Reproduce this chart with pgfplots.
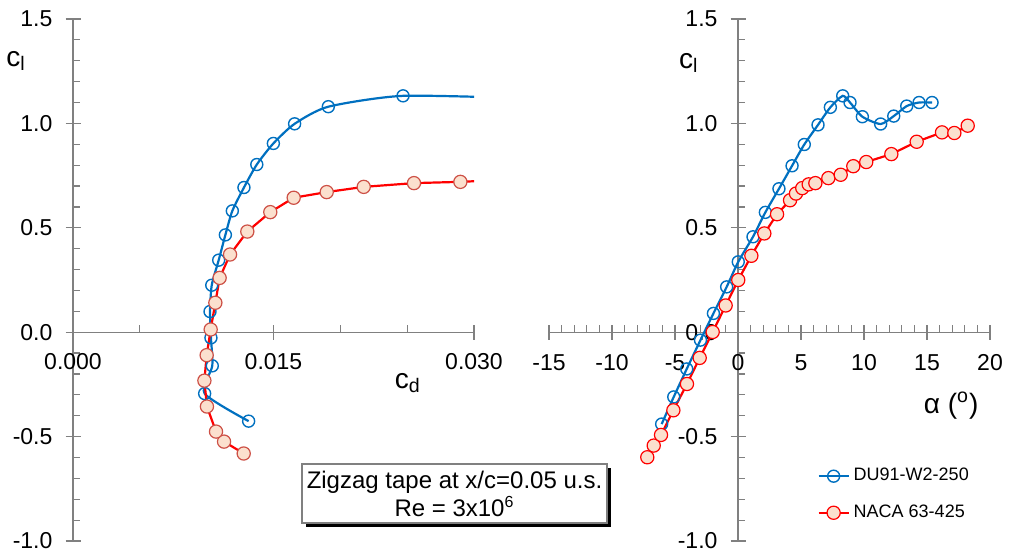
\documentclass[border=0pt]{standalone}
\usepackage{fontspec}
\setmainfont{Liberation Sans}
\usepackage{pgfplots}
\pgfplotsset{compat=1.18}
\usetikzlibrary{shadows}

\definecolor{dublue}{RGB}{0,112,192}
\definecolor{nacared}{RGB}{255,0,0}
\definecolor{nacafill}{RGB}{251,224,206}
\definecolor{nacaedge}{RGB}{205,80,70}
\definecolor{axgray}{RGB}{128,128,128}

\pgfplotsset{
  panel/.style={
    scale only axis, height=261pt,
    axis lines=middle,
    axis line style={-, draw=axgray, line width=0.65pt},
    hide obscured x ticks=false, hide obscured y ticks=false,
    scaled x ticks=false, scaled y ticks=false,
    ymin=-1, ymax=1.5, ytick={-1,-0.5,0,0.5,1,1.5},
    yticklabels={-1.0,-0.5,0.0,0.5,1.0,1.5},
    minor y tick num=4,
    tick align=center, major tick length=7.5pt, minor tick length=3.5pt,
    tick style={draw=axgray, line width=0.6pt},
    every minor x tick/.append style={yshift=1.75pt},
    every minor y tick/.append style={xshift=1.75pt},
    ticklabel style={font=\fontsize{11.5}{13}\selectfont, text=black},
    yticklabel style={xshift=-3pt},
    label style={font=\fontsize{14}{16}\selectfont},
  },
  du/.style={dublue, line width=1.1pt, mark=o,
    mark options={mark size=3pt, line width=0.7pt, fill=none, draw=dublue}},
  naca/.style={nacared, line width=1.1pt, mark=*,
    mark options={mark size=3.3pt, fill=nacafill, draw=#1, line width=0.6pt}},
  naca/.default=nacaedge,
}

\begin{document}
\begin{tikzpicture}
\path[use as bounding box] (0,0) rectangle (505pt,278pt);

% left: cl vs cd
\begin{axis}[panel, at={(36.5pt,7.5pt)}, anchor=south west, width=200.5pt,
  xmin=0, xmax=0.03, xtick={0,0.015,0.03}, xticklabels={0.000,0.015,0.030},
  minor x tick num=2,
  xticklabel style={yshift=-3.5pt},
  xlabel={c\textsubscript{d}}, ylabel={c\textsubscript{l}},
  xlabel style={at={(axis description cs:0.835,0.303)}, anchor=center},
  ylabel style={at={(axis description cs:-0.142,0.92)}, anchor=center, rotate=0},
]
\addplot[du, smooth, tension=0.4] coordinates {
  (0.01314,-0.426) (0.00985,-0.294) (0.01042,-0.161) (0.01032,-0.027)
  (0.01025,0.099) (0.01038,0.225) (0.01090,0.345) (0.01140,0.466)
  (0.01192,0.581) (0.01279,0.693) (0.01375,0.803) (0.01499,0.904)
  (0.01658,0.998) (0.01910,1.080) (0.02469,1.132) (0.03400,1.120)
};
\addplot[naca] coordinates {
  (0.01277,-0.581) (0.01130,-0.524) (0.01070,-0.476) (0.01002,-0.356)
  (0.00983,-0.232) (0.01000,-0.110) (0.01030,0.013) (0.01065,0.141)
  (0.01097,0.260) (0.01175,0.372) (0.01304,0.482) (0.01476,0.575)
  (0.01651,0.644) (0.01898,0.671) (0.02175,0.696) (0.02551,0.714)
  (0.02898,0.720) (0.03300,0.732)
};
\end{axis}

% right: cl vs alpha
\begin{axis}[panel, at={(274.5pt,7.5pt)}, anchor=south west, width=220.5pt,
  xmin=-15, xmax=20, xtick={-15,-10,-5,0,5,10,15,20},
  xticklabels={-15,-10,-5,0,5,10,15,20},
  minor x tick num=4,
  xticklabel style={yshift=-4pt},
  xlabel={α (\textsuperscript{o})}, ylabel={c\textsubscript{l}},
  xlabel style={at={(axis description cs:0.912,0.259)}, anchor=center},
  ylabel style={at={(axis description cs:0.317,0.916)}, anchor=center, rotate=0},
  legend cell align=left,
  legend style={at={(axis description cs:0.608,0.1475)}, anchor=north west,
    draw=none, fill=none, font=\fontsize{9}{11}\selectfont,
    row sep=6.5pt, inner sep=0pt},
  legend image code/.code={\draw[mark repeat=2,mark phase=2,#1]
    plot coordinates {(0pt,0pt) (7.5pt,0pt) (15pt,0pt)};},
]
\addplot[du, smooth, tension=0.4] coordinates {
  (-6.06,-0.440) (-5.10,-0.310) (-4.07,-0.176) (-2.98,-0.038)
  (-1.95,0.090) (-0.90,0.217) (0.02,0.337) (1.19,0.457)
  (2.17,0.574) (3.25,0.687) (4.29,0.797) (5.26,0.899)
  (6.35,0.993) (7.33,1.077) (8.31,1.132) (8.89,1.100)
  (9.87,1.032) (11.32,0.997) (12.36,1.035) (13.39,1.083)
  (14.37,1.100) (15.40,1.100)
};
\addlegendentry{DU91-W2-250}
\addplot[naca=nacared] coordinates {
  (-7.20,-0.599) (-6.69,-0.543) (-6.11,-0.492) (-5.13,-0.374)
  (-4.05,-0.248) (-3.04,-0.123) (-2.01,0.001) (-0.98,0.128)
  (0.02,0.250) (1.06,0.366) (2.09,0.473) (3.10,0.565)
  (4.13,0.632) (4.60,0.664) (5.10,0.690) (5.61,0.708)
  (6.14,0.714) (7.17,0.738) (8.15,0.754) (9.15,0.795)
  (10.18,0.815) (12.17,0.853) (14.18,0.912) (16.19,0.957)
  (17.17,0.954) (18.23,0.989)
};
\addlegendentry{NACA 63-425}
\end{axis}

\node[draw=axgray, fill=white, line width=0.6pt, minimum width=152.5pt,
  minimum height=29.5pt, align=center, inner sep=0pt,
  font=\fontsize{12}{14}\selectfont,
  drop shadow={shadow xshift=2pt, shadow yshift=-2pt, fill=black, opacity=1}]
  at (227.25pt,31.25pt) {Zigzag tape at x/c=0.05 u.s.\\Re = 3x10\textsuperscript{6}};
\end{tikzpicture}
\end{document}
